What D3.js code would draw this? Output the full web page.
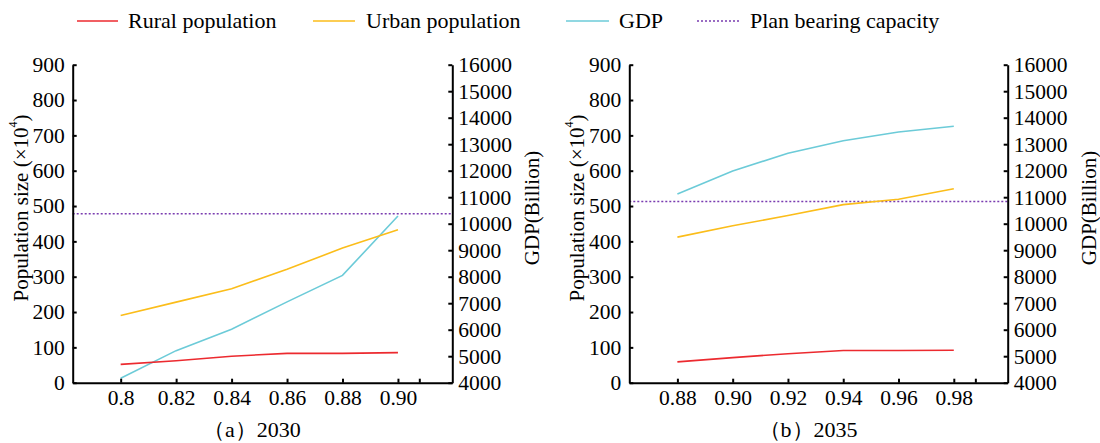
<!DOCTYPE html>
<html>
<head>
<meta charset="utf-8">
<script src="https://cdn.jsdelivr.net/npm/d3@7/dist/d3.min.js"></script>
<style>
  html, body { margin: 0; padding: 0; background: #fff; }
  svg { display: block; }
  text { font-family: "Liberation Serif", Tinos, "Times New Roman", "DejaVu Serif", serif; fill: #000; }
</style>
</head>
<body>
<svg id="chart" width="1100" height="443"></svg>
<script>
// ---- data ----
const seriesNames = ["Rural population", "Urban population", "GDP", "Plan bearing capacity"];

// (a) 2030
const xValuesA = [0.80, 0.82, 0.84, 0.86, 0.88, 0.90];
const xLabelsA = ["0.8", "0.82", "0.84", "0.86", "0.88", "0.90"];
const ruralA = [52, 62, 75, 83, 83, 85];
const urbanA = [190, 228, 266, 321, 381, 433];
const gdpA = [4170, 5210, 6020, 7050, 8050, 10290];
const planA = 478;
const xDomainA = [0.7827, 0.9196];
const xExtraTickA = 0.9077;

// (b) 2035
const xValuesB = [0.88, 0.90, 0.92, 0.94, 0.96, 0.98];
const xLabelsB = ["0.88", "0.90", "0.92", "0.94", "0.96", "0.98"];
const ruralB = [59, 71, 82, 91, 91, 92];
const urbanB = [412, 444, 473, 504, 519, 549];
const gdpB = [11120, 11990, 12660, 13130, 13460, 13680];
const planB = 513;
const xDomainB = [0.8626, 0.9995];
const xExtraTickB = 0.9878;

const popTicks = [0, 100, 200, 300, 400, 500, 600, 700, 800, 900];
const gdpTicks = [4000, 5000, 6000, 7000, 8000, 9000, 10000, 11000, 12000, 13000, 14000, 15000, 16000];
const captions = ["（a）2030", "（b）2035"];

// ---- styling ----
const colors = { rural: "#ec2a2f", urban: "#fbbd1a", gdp: "#6ccbd8", plan: "#7a3cb0" };
const serif = '"Liberation Serif", Tinos, "Times New Roman", "DejaVu Serif", serif';
const tickFont = 21.5;

const svg = d3.select("#chart");

const panels = [
  { x: xValuesA, labels: xLabelsA, rural: ruralA, urban: urbanA, gdp: gdpA, plan: planA,
    domain: xDomainA, extra: xExtraTickA, left: 72.7, right: 452.3, caption: captions[0], capX: 252, yLabX: 21, gLabX: 532 },
  { x: xValuesB, labels: xLabelsB, rural: ruralB, urban: urbanB, gdp: gdpB, plan: planB,
    domain: xDomainB, extra: xExtraTickB, left: 629.3, right: 1007.7, caption: captions[1], capX: 808, yLabX: 577, gLabX: 1089 }
];

const plotTop = 64.7, plotBottom = 382.7;

panels.forEach(p => {
  const x = d3.scaleLinear().domain(p.domain).range([p.left, p.right]);
  const yPop = d3.scaleLinear().domain([0, 900]).range([plotBottom, plotTop]);
  const yGdp = d3.scaleLinear().domain([4000, 16000]).range([plotBottom, plotTop]);
  const g = svg.append("g");

  // plan bearing capacity (dotted)
  g.append("line")
    .attr("x1", x(p.domain[0])).attr("x2", x(p.domain[1]))
    .attr("y1", yPop(p.plan)).attr("y2", yPop(p.plan))
    .attr("stroke", colors.plan).attr("stroke-width", 1.5)
    .attr("stroke-dasharray", "2,2");

  const linePop = d3.line().x((d, i) => x(p.x[i])).y(d => yPop(d));
  const lineGdp = d3.line().x((d, i) => x(p.x[i])).y(d => yGdp(d));

  g.append("path").datum(p.gdp).attr("d", lineGdp)
    .attr("fill", "none").attr("stroke", colors.gdp).attr("stroke-width", 1.6);
  g.append("path").datum(p.urban).attr("d", linePop)
    .attr("fill", "none").attr("stroke", colors.urban).attr("stroke-width", 1.6);
  g.append("path").datum(p.rural).attr("d", linePop)
    .attr("fill", "none").attr("stroke", colors.rural).attr("stroke-width", 1.6);

  // left axis
  const axL = d3.axisLeft(yPop).tickValues(popTicks).tickFormat(d3.format("d"))
    .tickSizeInner(-4).tickSizeOuter(0).tickPadding(8);
  const gL = g.append("g").attr("transform", `translate(${p.left},0)`).call(axL);
  // right axis
  const axR = d3.axisRight(yGdp).tickValues(gdpTicks).tickFormat(d3.format("d"))
    .tickSizeInner(-4).tickSizeOuter(0).tickPadding(6);
  const gR = g.append("g").attr("transform", `translate(${p.right},0)`).call(axR);
  // bottom axis
  const xTicks = p.x.concat([p.extra]);
  const axB = d3.axisBottom(x).tickValues(xTicks)
    .tickFormat((d, i) => i < p.labels.length ? p.labels[i] : "")
    .tickSizeInner(-4).tickSizeOuter(0).tickPadding(7);
  const gB = g.append("g").attr("transform", `translate(0,${plotBottom})`).call(axB);

  [gL, gR, gB].forEach(a => {
    a.attr("font-family", serif);
    a.select(".domain").attr("stroke", "#000").attr("stroke-width", 2);
    a.selectAll(".tick line").attr("stroke", "#000").attr("stroke-width", 2);
    a.selectAll(".tick text").attr("font-size", tickFont).style("font-family", serif);
  });

  // axis titles
  const yl = g.append("text")
    .attr("transform", `translate(${p.yLabX},${208}) rotate(-90)`)
    .attr("text-anchor", "middle").attr("dominant-baseline", "central")
    .attr("font-size", 21);
  yl.append("tspan").text("Population size (×10");
  yl.append("tspan").text("4").attr("font-size", 12).attr("dy", -8);
  yl.append("tspan").text(")").attr("dy", 8);

  g.append("text")
    .attr("transform", `translate(${p.gLabX},${208}) rotate(-90)`)
    .attr("text-anchor", "middle").attr("dominant-baseline", "central")
    .attr("font-size", 21)
    .text("GDP(Billion)");

  g.append("text")
    .attr("x", p.capX).attr("y", 437)
    .attr("text-anchor", "middle").attr("font-size", 22)
    .text(p.caption);
});

// ---- legend ----
const legendItems = [
  { name: seriesNames[0], color: colors.rural, dash: null, x1: 77, x2: 118, tx: 128 },
  { name: seriesNames[1], color: colors.urban, dash: null, x1: 313, x2: 355, tx: 366 },
  { name: seriesNames[2], color: colors.gdp, dash: null, x1: 566, x2: 609, tx: 619 },
  { name: seriesNames[3], color: colors.plan, dash: "2,2", x1: 697, x2: 739, tx: 750 }
];
const lg = svg.append("g");
legendItems.forEach(it => {
  lg.append("line").attr("x1", it.x1).attr("x2", it.x2).attr("y1", 21).attr("y2", 21)
    .attr("stroke", it.color).attr("stroke-width", 1.6)
    .attr("stroke-dasharray", it.dash);
  lg.append("text").attr("x", it.tx).attr("y", 28).attr("font-size", 22).text(it.name);
});
</script>
</body>
</html>
